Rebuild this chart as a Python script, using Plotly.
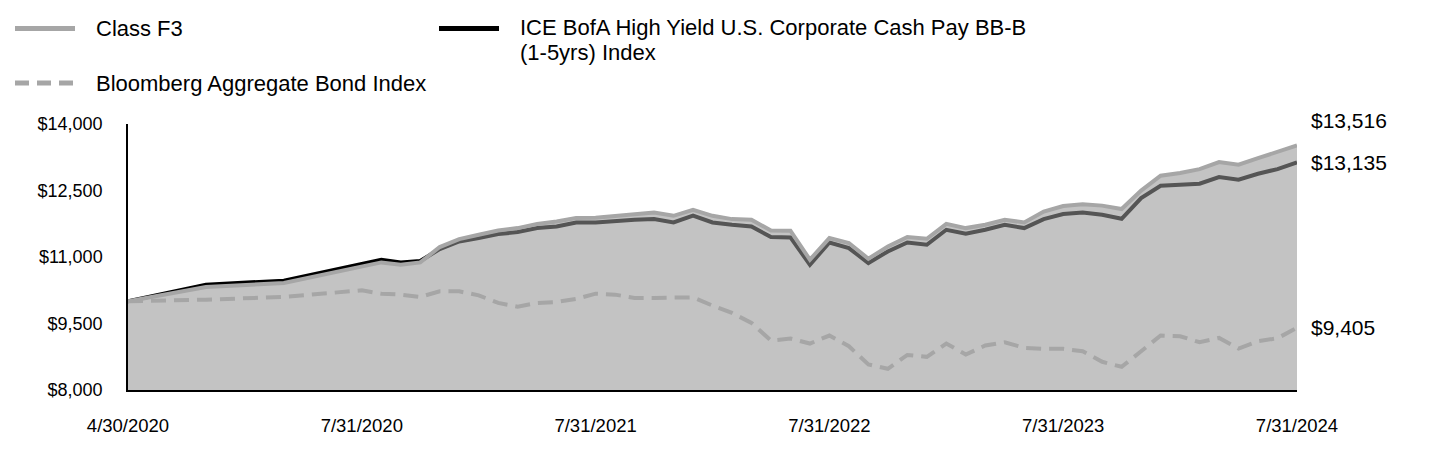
import pandas as pd
import plotly.graph_objects as go

# ---- data -------------------------------------------------------------
dates = [d.strftime("%-m/%-d/%Y") for d in pd.date_range("2020-04-30", "2024-07-31", freq="ME")]

class_f3 = [10000, 10324, 10414, 10788, 10878, 10826, 10878, 11225, 11405, 11502,
            11598, 11652, 11743, 11801, 11877, 11884, 11929, 11959, 12004, 11929,
            12065, 11929, 11855, 11839, 11598, 11592, 10939, 11427, 11315, 10961,
            11238, 11450, 11412, 11749, 11652, 11727, 11839, 11779, 12024, 12150,
            12188, 12159, 12083, 12499, 12833, 12893, 12981, 13142, 13081, 13230,
            13365, 13516]

ice_bofa = [10000, 10376, 10466, 10849, 10939, 10878, 10909, 11180, 11351, 11427,
            11517, 11562, 11652, 11689, 11779, 11779, 11817, 11839, 11855, 11779,
            11936, 11779, 11727, 11689, 11450, 11441, 10826, 11328, 11202, 10865,
            11126, 11328, 11277, 11614, 11524, 11614, 11727, 11652, 11855, 11968,
            12004, 11952, 11862, 12328, 12608, 12623, 12653, 12804, 12743, 12878,
            12983, 13135]

bloomberg = [10000, 10038, 10099, 10248, 10173, 10151, 10099, 10225, 10225, 10135,
             9964, 9880, 9964, 9986, 10054, 10173, 10151, 10077, 10077, 10090,
             10090, 9903, 9739, 9514, 9115, 9160, 9048, 9228, 8988, 8575,
             8478, 8790, 8748, 9048, 8800, 9003, 9077, 8951, 8928, 8928,
             8874, 8636, 8523, 8874, 9228, 9213, 9077, 9175, 8935, 9100,
             9167, 9405]

tick_labels = ["4/30/2020", "7/31/2020", "7/31/2021", "7/31/2022", "7/31/2023", "7/31/2024"]
y_ticks = [8000, 9500, 11000, 12500, 14000]

names = ["Class F3",
         "ICE BofA High Yield U.S. Corporate Cash Pay BB-B (1-5yrs) Index",
         "Bloomberg Aggregate Bond Index"]
# legend text lines (the long index name wraps onto two lines)
legend_lines = [["Class F3"],
                ["ICE BofA High Yield U.S. Corporate Cash Pay BB-B", "(1-5yrs) Index"],
                ["Bloomberg Aggregate Bond Index"]]

# ---- x scale: first quarter is stretched (4 slots per month), then one slot per month
def slot(i):
    return 4 * i if i <= 3 else i + 9

xpos = [slot(i) for i in range(len(dates))]
tick_pos = [slot(dates.index(t)) for t in tick_labels]

FONT = "Liberation Sans, Arial, sans-serif"
GRAY = "#a6a6a6"
LEG_SIZE = 22

fig = go.Figure()
fig.add_trace(go.Scatter(x=xpos, y=ice_bofa, mode="lines", name=names[1], customdata=dates,
                         line=dict(color="#000000", width=4), showlegend=False))
fig.add_trace(go.Scatter(x=xpos, y=class_f3, mode="lines", name=names[0], customdata=dates,
                         fill="tozeroy", fillcolor="rgba(150,150,150,0.57)",
                         line=dict(color=GRAY, width=4), showlegend=False))
fig.add_trace(go.Scatter(x=xpos, y=bloomberg, mode="lines", name=names[2], customdata=dates,
                         line=dict(color=GRAY, width=4, dash="15px,8px"), showlegend=False))

# end-value labels
for series, shift in ((class_f3, 25), (ice_bofa, 0), (bloomberg, 0)):
    fig.add_annotation(x=xpos[-1], y=series[-1], xref="x", yref="y",
                       text=f"${series[-1]:,}", showarrow=False,
                       xanchor="left", yanchor="middle", xshift=12, yshift=shift,
                       font=dict(family=FONT, size=21, color="#000000"))

# manual legend (paper coords relative to plot area)
L, W, B, H = 128, 1169, 390, 266
px = lambda v: (v - L) / W
py = lambda v: (B - v) / H

legend_pos = [(15, 28.5), (439, 28.5), (15, 83)]
legend_style = [(GRAY, "solid"), ("#000000", "solid"), (GRAY, "14px,8px")]
for lines, (x0, yc), (col, dash) in zip(legend_lines, legend_pos, legend_style):
    fig.add_shape(type="line", xref="paper", yref="paper",
                  x0=px(x0), x1=px(x0 + 60), y0=py(yc), y1=py(yc),
                  line=dict(color=col, width=5, dash=dash))
    if len(lines) == 1:
        fig.add_annotation(xref="paper", yref="paper", x=px(x0 + 79), y=py(yc),
                           xanchor="left", yanchor="middle", align="left",
                           text=lines[0], showarrow=False,
                           font=dict(family=FONT, size=LEG_SIZE, color="#000000"))
    else:
        # compact line spacing: base size sets the line pitch, spans set the glyph size
        base = 25 / 1.3
        text = "<br>".join(f"<span style='font-size:{LEG_SIZE}px'>{t}</span>" for t in lines)
        fig.add_annotation(xref="paper", yref="paper", x=px(x0 + 79), y=py(yc - 15.5),
                           xanchor="left", yanchor="top", align="left",
                           text=text, showarrow=False,
                           font=dict(family=FONT, size=base, color="#000000"))

fig.update_layout(
    width=1440, height=468, autosize=False,
    margin=dict(l=L, r=1440 - L - W, t=B - H, b=468 - B),
    paper_bgcolor="white", plot_bgcolor="white",
    font=dict(family=FONT, size=18, color="#000000"),
    showlegend=False,
    xaxis=dict(range=[0, 60], tickvals=tick_pos, ticktext=tick_labels,
               showgrid=False, zeroline=False, showline=True, linecolor="#000000",
               linewidth=1.5, ticks="", layer="below traces", ticklabelstandoff=18,
               tickfont=dict(family=FONT, size=18.5, color="#000000")),
    yaxis=dict(range=[8000, 14000], tickvals=y_ticks,
               ticktext=[f"${v:,}" for v in y_ticks],
               showgrid=False, zeroline=False, showline=True, linecolor="#000000",
               linewidth=1.5, ticks="", layer="below traces", ticklabelstandoff=20,
               tickfont=dict(family=FONT, size=18, color="#000000")),
)

fig.write_html("out.html", config={"displayModeBar": False},
               post_script="document.body.style.margin='0';")
